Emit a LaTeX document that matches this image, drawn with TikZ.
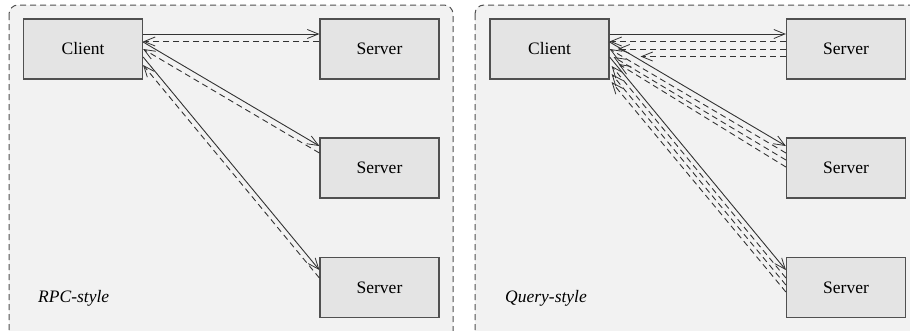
\documentclass[tikz,border=0pt]{standalone}
\usepackage{fontspec}
\setmainfont{Liberation Serif}
\usetikzlibrary{arrows.meta}
\definecolor{panelbg}{HTML}{F2F2F2}
\definecolor{boxbg}{HTML}{E4E4E4}
\definecolor{boxline}{HTML}{505050}
\definecolor{lineclr}{HTML}{333333}
\tikzset{
  panel/.style={draw=boxline, fill=panelbg, dash pattern=on 6pt off 4pt, rounded corners=9pt, line width=1pt},
  hostbox/.style={draw=boxline, fill=boxbg, line width=1.2pt, minimum width=119pt, minimum height=60pt, inner sep=0pt, font=\fontsize{17.5}{20}\selectfont},
  tag/.style={font=\fontsize{17.5}{20}\selectfont\itshape, anchor=base west, inner sep=0pt},
  req/.style={draw=lineclr, line width=0.9pt, -{Straight Barb[length=11pt,width=9pt,line width=0.8pt]}},
  rsp/.style={draw=lineclr, line width=0.9pt, dash pattern=on 6pt off 4pt, -{Straight Barb[length=11pt,width=9pt,line width=0.8pt]}}
}
\begin{document}
\begin{tikzpicture}[x=1pt,y=-1pt]
\useasboundingbox (0,0) rectangle (910,330);
\begin{scope}
\clip (0,0) rectangle (910,330);
\draw[panel] (9,5) rectangle (453,345);
\draw[panel] (475,5) rectangle (930,345);
\end{scope}

% left panel
\node[hostbox] (c1) at (83,49) {Client};
\node[hostbox] (s11) at (379.5,49) {Server};
\node[hostbox] (s12) at (379.5,168) {Server};
\node[hostbox] (s13) at (379.5,287.5) {Server};
\node[tag] (t1) at (38,302) {RPC-style};

% right panel
\node[hostbox] (c2) at (549.5,49) {Client};
\node[hostbox] (s21) at (846,49) {Server};
\node[hostbox] (s22) at (846,168) {Server};
\node[hostbox] (s23) at (846,287.5) {Server};
\node[tag] (t2) at (505,302) {Query-style};

% left connectors
\draw[req] (c1.east |- 0,34) -- (s11.west |- 0,34);
\draw[rsp] (s11.west |- 0,41.5) -- (c1.east |- 0,41.5);
\draw[req] (c1.east |- 0,42) -- (s12.west |- 0,146);
\draw[rsp] (s12.west |- 0,153) -- (c1.east |- 0,49);
\draw[req] (c1.east |- 0,57) -- (s13.west |- 0,270);
\draw[rsp] (s13.west |- 0,278) -- (c1.east |- 0,65);

% right connectors
\draw[req] (c2.east |- 0,34) -- (s21.west |- 0,34);
\draw[rsp] (s21.west |- 0,41.5) -- (c2.east |- 0,41.5);
\draw[rsp] (s21.west |- 0,49) -- ([xshift=8pt]c2.east |- 0,49);
\draw[rsp] (s21.west |- 0,56.5) -- ([xshift=31pt]c2.east |- 0,56.5);
\draw[req] (c2.east |- 0,42) -- (s22.west |- 0,146);
\draw[rsp] (s22.west |- 0,153) -- (c2.east |- 0,49);
\draw[rsp] (s22.west |- 0,160) -- ([xshift=4pt]c2.east |- 0,57);
\draw[rsp] (s22.west |- 0,167) -- ([xshift=9pt]c2.east |- 0,64);
\draw[req] (c2.east |- 0,57) -- (s23.west |- 0,270);
\draw[rsp] (s23.west |- 0,278) -- ([xshift=2pt]c2.east |- 0,66);
\draw[rsp] (s23.west |- 0,285) -- ([xshift=2pt]c2.east |- 0,74);
\draw[rsp] (s23.west |- 0,292) -- ([xshift=2pt]c2.east |- 0,82);
\end{tikzpicture}
\end{document}
